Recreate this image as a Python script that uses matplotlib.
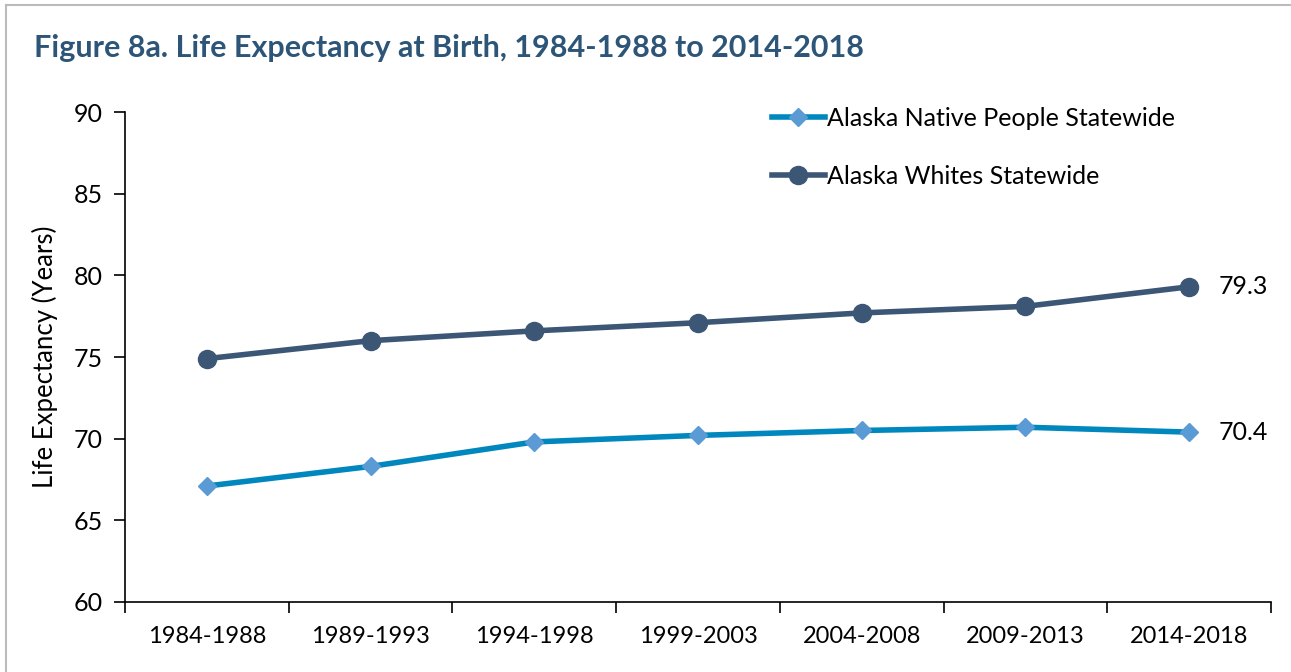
import matplotlib.pyplot as plt
from matplotlib.lines import Line2D

plt.rcParams["font.family"] = ["Lato", "DejaVu Sans"]

# data
periods = ["1984-1988", "1989-1993", "1994-1998", "1999-2003",
           "2004-2008", "2009-2013", "2014-2018"]
native = [67.1, 68.3, 69.8, 70.2, 70.5, 70.7, 70.4]
whites = [74.9, 76.0, 76.6, 77.1, 77.7, 78.1, 79.3]

fig = plt.figure(figsize=(12.91, 6.72), dpi=100)
ax = fig.add_axes([0.0968, 0.1042, 0.8877, 0.7291])

x = [i + 0.5 for i in range(len(periods))]

ax.plot(x, native, color="#0088BE", linewidth=4, marker="D", markersize=9,
        markerfacecolor="#5B9BD5", markeredgecolor="#5B9BD5",
        label="Alaska Native People Statewide", zorder=3)
ax.plot(x, whites, color="#3C5676", linewidth=4, marker="o", markersize=13,
        markerfacecolor="#3C5676", markeredgecolor="#3C5676",
        label="Alaska Whites Statewide", zorder=3)

# end labels
for series in (whites, native):
    ax.annotate(f"{series[-1]:.1f}", (x[-1], series[-1]), xytext=(21, 0),
                textcoords="offset points", va="center", ha="left", fontsize=18)

ax.set_xlim(0, len(periods))
ax.set_ylim(60, 90)
ax.set_yticks(range(60, 91, 5))
ax.set_xticks(range(len(periods) + 1))
ax.set_xticklabels([])
ax.set_xticks(x, minor=True)
ax.set_xticklabels(periods, minor=True)
ax.tick_params(axis="x", which="major", length=8, width=1.2, direction="out")
ax.tick_params(axis="x", which="minor", length=0, pad=17, labelsize=17)
ax.tick_params(axis="y", length=8, width=1.2, direction="out", labelsize=18, pad=8)

for s in ["top", "right"]:
    ax.spines[s].set_visible(False)
for s in ["left", "bottom"]:
    ax.spines[s].set_linewidth(1.2)

ax.set_ylabel("Life Expectancy (Years)", fontsize=18.5, labelpad=11)

ax.legend(loc="upper left", bbox_to_anchor=(0.545, 1.057), frameon=False,
          fontsize=18, handlelength=2.1, handletextpad=0.1, labelspacing=1.4)

fig.text(0.026, 0.915, "Figure 8a. Life Expectancy at Birth, 1984-1988 to 2014-2018",
         fontsize=22, fontweight="bold", color="#2C5577", va="baseline")

# figure frame (top and left edges)
fig.add_artist(Line2D([6 / 1291, 1], [1 - 5 / 672, 1 - 5 / 672],
                      color="#BBBBBB", linewidth=1.5, transform=fig.transFigure))
fig.add_artist(Line2D([6 / 1291, 6 / 1291], [0, 1 - 5 / 672],
                      color="#BBBBBB", linewidth=1.5, transform=fig.transFigure))

fig.savefig("out.png", dpi=100)
